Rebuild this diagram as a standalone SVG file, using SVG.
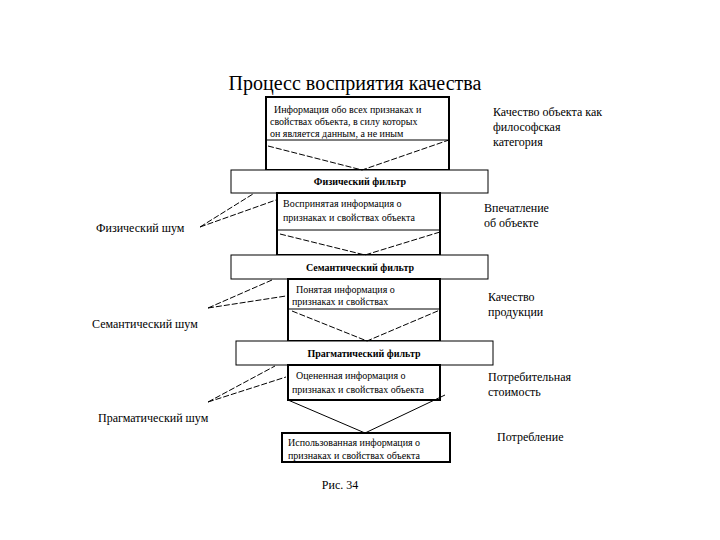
<svg xmlns="http://www.w3.org/2000/svg" width="720" height="540" viewBox="0 0 720 540" font-family="'Liberation Serif', 'Times New Roman', 'DejaVu Serif', serif">
<style>
.b{fill:#fff;stroke:#000;stroke-width:2}
.f{fill:#fff;stroke:#000;stroke-width:1}
.l{stroke:#000;stroke-width:1;fill:none}
.d{stroke:#000;stroke-width:1;fill:none;stroke-dasharray:6,2}
.s{font-size:10px}
.m{font-size:12px}
.fb{font-size:10px;font-weight:bold}
</style>
<rect width="720" height="540" fill="#fff"/>
<text x="355" y="90" font-size="20" text-anchor="middle">Процесс восприятия качества</text>
<g id="box1"><rect class="b" x="266" y="97" width="183" height="73"/><line class="l" x1="266" y1="140" x2="449" y2="140"/>
<text class="s" x="274" y="113">Информация обо всех признаках и</text>
<text class="s" x="270" y="125">свойствах объекта, в силу которых</text>
<text class="s" x="270" y="137">он является данным, а не иным</text></g>
<g id="filter1"><rect class="f" x="231" y="170" width="257" height="23"/><text class="fb" x="360" y="185" text-anchor="middle">Физический фильтр</text></g>
<g id="box2"><rect class="b" x="277" y="193" width="163" height="62"/><line class="l" x1="277" y1="230" x2="440" y2="230"/>
<text class="s" x="283" y="207">Воспринятая информация о</text>
<text class="s" x="283" y="221">признаках и свойствах объекта</text></g>
<g id="filter2"><rect class="f" x="231" y="255" width="257" height="24"/><text class="fb" x="360" y="271" text-anchor="middle">Семантический фильтр</text></g>
<g id="box3"><rect class="b" x="288" y="279" width="152" height="62"/><line class="l" x1="288" y1="309" x2="440" y2="309"/>
<text class="s" x="296" y="293">Понятая информация о</text>
<text class="s" x="292" y="305">признаках и свойствах</text></g>
<g id="filter3"><rect class="f" x="236" y="341" width="257" height="24"/><text class="fb" x="364" y="357" text-anchor="middle">Прагматический фильтр</text></g>
<g id="box4"><rect class="b" x="288" y="365" width="152" height="35"/>
<text class="s" x="296" y="379">Оцененная информация о</text>
<text class="s" x="292" y="393">признаках и свойствах объекта</text></g>
<g id="box5"><rect class="b" x="282" y="433" width="168" height="29"/>
<text class="s" x="288" y="446">Использованная информация о</text>
<text class="s" x="288" y="459">признаках и свойствах объекта</text></g>
<g id="connectors">
<polyline class="d" points="268,146 362,170 449,140"/>
<polyline class="d" points="280,234 365,255 440,232"/>
<polyline class="d" points="292,311 367,341 440,310"/>
<polyline class="l" points="288,400 365,433 445,395"/>
<polyline class="d" points="200,227 253,194"/>
<polyline class="d" points="200,227 276,200"/>
<polyline class="d" points="208,308 272,280"/>
<polyline class="d" points="208,308 286,296"/>
<polyline class="d" points="208,402 275,366"/>
<polyline class="d" points="208,402 286,377"/>
</g>
<g id="labels">
<text class="m" x="493" y="116">Качество объекта как</text>
<text class="m" x="493" y="131">философская</text>
<text class="m" x="493" y="146">категория</text>
<text class="m" x="484" y="212">Впечатление</text>
<text class="m" x="484" y="227">об объекте</text>
<text class="m" x="488" y="301">Качество</text>
<text class="m" x="488" y="316">продукции</text>
<text class="m" x="488" y="381">Потребительная</text>
<text class="m" x="488" y="396">стоимость</text>
<text class="m" x="497" y="441">Потребление</text>
<text class="m" x="96" y="232">Физический шум</text>
<text class="m" x="92" y="328">Семантический шум</text>
<text class="m" x="98" y="422">Прагматический шум</text>
<text class="m" x="340" y="489" text-anchor="middle">Рис. 34</text>
</g>
</svg>
